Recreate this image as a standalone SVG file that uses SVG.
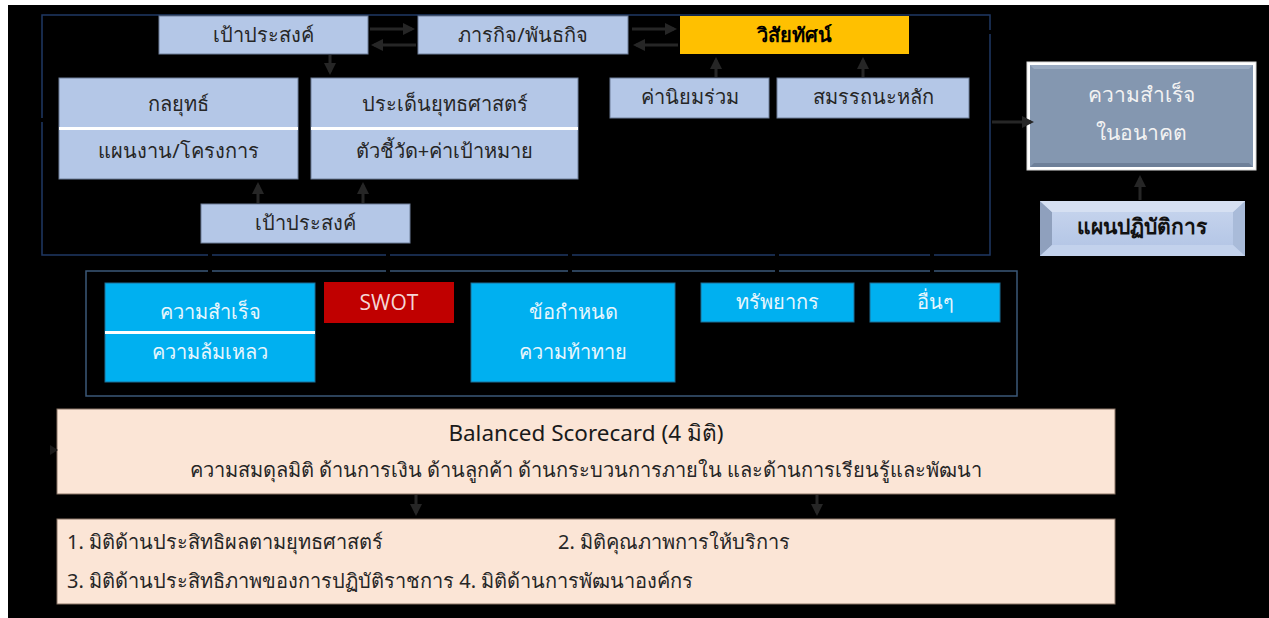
<svg xmlns="http://www.w3.org/2000/svg" width="1269" height="618" viewBox="0 0 1269 618">
<defs>
<style>
.t{font-family:"Noto Sans","Liberation Sans",sans-serif;font-size:20px;text-anchor:middle;fill:#262626}
.s{text-anchor:start}
.w{fill:#e8f6fc}
.lb{fill:#b4c7e7;stroke:#6f7f99;stroke-width:1}
.cy{fill:#00b0f0;stroke:#1d6f96;stroke-width:1}
.pe{fill:#fbe5d6;stroke:#8a7566;stroke-width:1}
.ar{stroke:#262626;stroke-width:3;fill:none;marker-end:url(#ah)}
.bk{stroke:#000;stroke-width:4;fill:none}
</style>
<marker id="ah" markerWidth="4" markerHeight="4" refX="3" refY="2" orient="auto" markerUnits="strokeWidth">
<path d="M0,0 L4,2 L0,4 z" fill="#262626"/>
</marker>
<linearGradient id="bev" x1="0" y1="0" x2="0" y2="1">
<stop offset="0" stop-color="#c9d6ee"/>
<stop offset="1" stop-color="#b0c3e4"/>
</linearGradient>
</defs>
<rect x="0" y="0" width="1269" height="618" fill="#fff"/>
<rect x="8" y="5" width="1261" height="613" fill="#000"/>

<g id="frames">
<rect x="42" y="15" width="948" height="240" fill="none" stroke="#1f3864" stroke-width="1.5"/>
<rect x="86" y="271" width="931" height="125" fill="none" stroke="#3b5878" stroke-width="1.5"/>
</g>

<g id="n-goal-top"><rect class="lb" x="159" y="16" width="209" height="38"/><text class="t" x="263.5" y="42">เป้าประสงค์</text></g>
<g id="n-mission"><rect class="lb" x="418" y="16" width="210" height="38"/><text class="t" x="523" y="42">ภารกิจ/พันธกิจ</text></g>
<g id="n-vision"><rect x="680" y="16" width="229" height="38" fill="#ffc000"/><text class="t" x="794.5" y="42" font-weight="bold" style="fill:#000">วิสัยทัศน์</text></g>
<g id="n-strategy"><rect class="lb" x="59" y="78" width="239" height="101"/><rect x="59" y="127" width="239" height="3" fill="#fff"/><text class="t" x="178.5" y="111">กลยุทธ์</text><text class="t" x="178.5" y="158">แผนงาน/โครงการ</text></g>
<g id="n-issue"><rect class="lb" x="311" y="78" width="267" height="101"/><rect x="311" y="127" width="267" height="3" fill="#fff"/><text class="t" x="444.5" y="111">ประเด็นยุทธศาสตร์</text><text class="t" x="444.5" y="158">ตัวชี้วัด+ค่าเป้าหมาย</text></g>
<g id="n-goal-bottom"><rect class="lb" x="201" y="204" width="209" height="39"/><text class="t" x="305.5" y="230">เป้าประสงค์</text></g>
<g id="n-values"><rect class="lb" x="610" y="78" width="159" height="40"/><text class="t" x="689.5" y="104">ค่านิยมร่วม</text></g>
<g id="n-competency"><rect class="lb" x="777" y="78" width="192" height="40"/><text class="t" x="873" y="104">สมรรถนะหลัก</text></g>
<g id="n-future">
<rect x="1027" y="62" width="229" height="108" fill="#fff" stroke="#d9d9d9" stroke-width="1"/>
<rect x="1030" y="65" width="223" height="102" fill="#8497b0"/>
<path d="M1030,65 H1253 L1249,69 H1034 Z" fill="#9aabc2"/>
<path d="M1030,167 H1253 L1249,163 H1034 Z" fill="#6e8099"/>
<text class="t" x="1141" y="102" style="fill:#f2f2f2;font-size:21px">ความสำเร็จ</text>
<text class="t" x="1141" y="140" style="fill:#f2f2f2;font-size:21px">ในอนาคต</text>
</g>
<g id="n-actionplan">
<rect x="1040" y="201" width="205" height="55" fill="url(#bev)"/>
<path d="M1040,201 L1052,212 V245 L1040,256 Z" fill="#8fa0bd"/>
<path d="M1245,201 L1233,212 V245 L1245,256 Z" fill="#a9bbd9"/>
<path d="M1040,201 H1245 L1233,212 H1052 Z" fill="#d6e0f2"/>
<path d="M1040,256 H1245 L1233,245 H1052 Z" fill="#c3d2ec"/>
<text class="t" x="1142" y="234" font-weight="bold" style="fill:#111;font-size:21px">แผนปฏิบัติการ</text>
</g>
<g id="n-success-fail"><rect class="cy" x="105" y="283" width="210" height="99"/><rect x="105" y="331" width="210" height="3" fill="#fff"/><text class="t w" x="210" y="319">ความสำเร็จ</text><text class="t w" x="210" y="359">ความล้มเหลว</text></g>
<g id="n-swot"><rect x="324" y="282" width="130" height="41" fill="#c00000"/><text x="389" y="310" font-family="'Open Sans','Noto Sans',sans-serif" font-size="21" text-anchor="middle" fill="#f4d6d6">SWOT</text></g>
<g id="n-requirement"><rect class="cy" x="471" y="283" width="204" height="99"/><text class="t w" x="573" y="319">ข้อกำหนด</text><text class="t w" x="573" y="359">ความท้าทาย</text></g>
<g id="n-resource"><rect class="cy" x="701" y="283" width="153" height="39"/><text class="t w" x="777.5" y="309">ทรัพยากร</text></g>
<g id="n-other"><rect class="cy" x="870" y="283" width="130" height="39"/><text class="t w" x="935" y="309">อื่นๆ</text></g>
<g id="n-bsc"><rect class="pe" x="57" y="409" width="1058" height="85"/><text class="t" x="586" y="441" style="font-size:22.5px;fill:#1a1a1a">Balanced Scorecard (4 มิติ)</text><text class="t" x="586" y="477">ความสมดุลมิติ ด้านการเงิน ด้านลูกค้า ด้านกระบวนการภายใน และด้านการเรียนรู้และพัฒนา</text></g>
<g id="n-dims"><rect class="pe" x="57" y="519" width="1058" height="85"/>
<text class="t s" x="67" y="549">1. มิติด้านประสิทธิผลตามยุทธศาสตร์</text>
<text class="t s" x="558" y="549">2. มิติคุณภาพการให้บริการ</text>
<text class="t s" x="67" y="588">3. มิติด้านประสิทธิภาพของการปฏิบัติราชการ 4. มิติด้านการพัฒนาองค์กร</text>
</g>

<g id="connectors">
<path class="bk" d="M210,245 V282 M388,245 V281 M570,181 V282 M777,120 V282 M932,120 V282"/>
<path class="bk" d="M44,120 H28 V450 H50"/>
<path class="bk" d="M910,32 H1000"/>
<path d="M50,445 L58,450 L50,455 z" fill="#1a1a1a"/>
<line class="ar" x1="370" y1="29" x2="412" y2="29"/>
<line class="ar" x1="416" y1="45" x2="374" y2="45"/>
<line class="ar" x1="632" y1="29" x2="674" y2="29"/>
<line class="ar" x1="678" y1="45" x2="636" y2="45"/>
<line class="ar" x1="330" y1="55" x2="330" y2="72"/>
<line class="ar" x1="258" y1="203" x2="258" y2="185"/>
<line class="ar" x1="363" y1="203" x2="363" y2="185"/>
<line class="ar" x1="716" y1="77" x2="716" y2="60"/>
<line class="ar" x1="863" y1="77" x2="863" y2="60"/>
<line class="ar" x1="992" y1="122" x2="1031" y2="122"/>
<line class="ar" x1="1140" y1="200" x2="1140" y2="178"/>
<line class="ar" x1="416" y1="495" x2="416" y2="513"/>
<line class="ar" x1="817" y1="495" x2="817" y2="513"/>
</g>
</svg>
